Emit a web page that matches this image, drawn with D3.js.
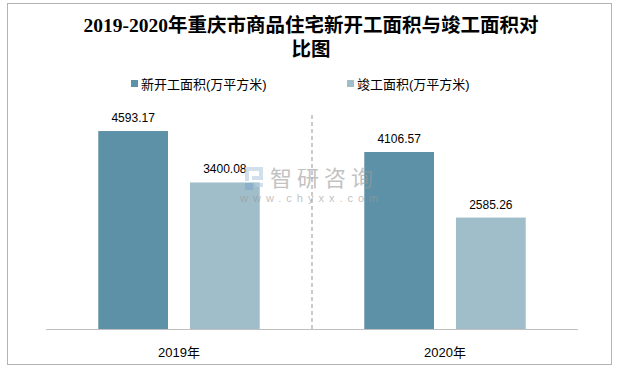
<!DOCTYPE html>
<html><head><meta charset="utf-8">
<script src="https://cdn.jsdelivr.net/npm/d3@7/dist/d3.min.js"></script>
<style>body{margin:0;background:#fff}svg{display:block}</style>
</head><body>
<svg id="c" width="618" height="369"></svg>
<script>
const categories = ["2019年", "2020年"];
const seriesNames = ["新开工面积(万平方米)", "竣工面积(万平方米)"];
const newStart = [4593.17, 4106.57];
const completed = [3400.08, 2585.26];
const colors = ["#5D91A7", "#A0BECA"];

const svg = d3.select("#c");
svg.append("rect").attr("x", 7.5).attr("y", 3.5).attr("width", 604).attr("height", 361)
  .attr("fill", "#fff").attr("stroke", "#B3B3B3").attr("stroke-width", 1);

const x0 = d3.scaleBand().domain(categories).range([46, 578]).paddingInner(0).paddingOuter(0);
const x1 = d3.scaleBand().domain(seriesNames).range([0, x0.bandwidth()]).paddingInner(0.24).paddingOuter(0.57);
const y = d3.scaleLinear().domain([0, 5000]).range([329, 113.5]);

const data = categories.map((c, i) => ({cat: c, vals: [newStart[i], completed[i]]}));

// separator
svg.append("line").attr("x1", x0("2020年")).attr("x2", x0("2020年")).attr("y1", 115).attr("y2", 329)
  .attr("stroke", "#AFAFAF").attr("stroke-width", 1.3).attr("stroke-dasharray", "4,3");

const g = svg.selectAll("g.cat").data(data).join("g").attr("class", "cat")
  .attr("transform", d => `translate(${x0(d.cat)},0)`);
g.selectAll("rect").data(d => d.vals.map((v, j) => ({v, s: seriesNames[j], j}))).join("rect")
  .attr("x", d => x1(d.s)).attr("width", x1.bandwidth())
  .attr("y", d => y(d.v)).attr("height", d => y(0) - y(d.v))
  .attr("fill", d => colors[d.j]);
g.selectAll("text.val").data(d => d.vals.map((v, j) => ({v, s: seriesNames[j], j}))).join("text")
  .attr("class", "val")
  .attr("x", d => x1(d.s) + x1.bandwidth() / 2).attr("y", d => y(d.v) - 9)
  .attr("text-anchor", "middle").attr("font-family", "Liberation Sans, Arial").attr("font-size", 12)
  .attr("fill", "#000").text(d => d.v.toFixed(2));

// watermark (drawn over bars, semi-transparent)
const wm = svg.append("g").attr("opacity", 0.6);
wm.append("rect").attr("x", 245).attr("y", 167).attr("width", 4).attr("height", 14).attr("fill", "#B5CDE0");
wm.append("rect").attr("x", 245).attr("y", 167).attr("width", 18).attr("height", 4).attr("fill", "#B5CDE0");
wm.append("rect").attr("x", 259).attr("y", 167).attr("width", 4).attr("height", 13).attr("fill", "#B5CDE0");
wm.append("rect").attr("x", 252).attr("y", 176).attr("width", 11).attr("height", 4).attr("fill", "#B5CDE0");
wm.append("rect").attr("x", 245).attr("y", 183).attr("width", 8).attr("height", 7).attr("fill", "#7FA8CC");
wm.append("rect").attr("x", 255).attr("y", 183).attr("width", 8).attr("height", 4).attr("fill", "#B5CDE0");
wm.append("text").attr("x", 270).attr("y", 186).attr("font-family", "Noto Sans CJK SC").attr("font-size", 22)
  .attr("fill", "#9A9A9A").attr("letter-spacing", 5).text("智研咨询");
wm.append("text").attr("x", 240).attr("y", 202).attr("font-family", "Liberation Sans, Arial").attr("font-size", 11)
  .attr("fill", "#9A9A9A").attr("letter-spacing", 5).text("www.chyxx.com");

// axis
const ax = svg.append("g").attr("transform", "translate(0,329)").call(d3.axisBottom(x0).tickSize(0).tickPadding(0));
ax.select(".domain").attr("stroke", "#BFBFBF").attr("d", "M46,0.5H578");
ax.selectAll("text").attr("y", 19).attr("font-family", "Liberation Sans, Noto Sans CJK SC").attr("font-size", 13).attr("fill", "#000");

// title
const title = svg.append("text").attr("text-anchor", "middle").attr("font-family", "Liberation Serif, Noto Sans CJK SC")
  .attr("font-weight", "bold").attr("font-size", 19.5).attr("fill", "#000");
title.append("tspan").attr("x", 311).attr("y", 32).text("2019-2020年重庆市商品住宅新开工面积与竣工面积对");
title.append("tspan").attr("x", 311).attr("y", 56).text("比图");

// legend
const legX = [131, 347];
const lg = svg.selectAll("g.leg").data(seriesNames).join("g").attr("class", "leg")
  .attr("transform", (d, i) => `translate(${legX[i]},84)`);
lg.append("rect").attr("x", 0).attr("y", -4).attr("width", 7).attr("height", 7).attr("fill", (d, i) => colors[i]);
lg.append("text").attr("x", 10).attr("y", 4.5).attr("font-family", "Liberation Sans, Noto Sans CJK SC")
  .attr("font-size", 13).attr("fill", "#000").text(d => d);
</script>
</body></html>
